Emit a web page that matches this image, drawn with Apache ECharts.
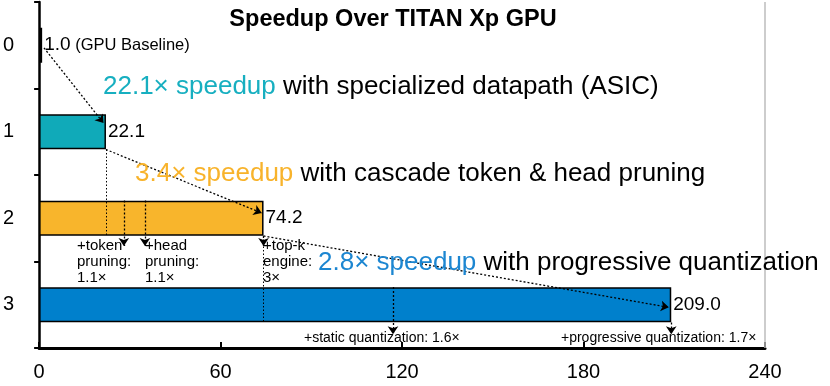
<!DOCTYPE html>
<html>
<head>
<meta charset="utf-8">
<script src="https://cdn.jsdelivr.net/npm/echarts@6/dist/echarts.min.js"></script>
<style>
  html,body{margin:0;padding:0;background:#fff;}
  #chart{width:830px;height:386px;}
</style>
</head>
<body>
<div id="chart"></div>
<script>
/* data */
const categories = ["0", "1", "2", "3"];
const speedup = [1.0, 22.1, 74.2, 209.0];
const xTicks = [0, 60, 120, 180, 240];
// cumulative speedup where each sub step lands inside a bar
const pruningSteps = [28.0, 35.0];      // +token pruning, +head pruning (bar 2)
const quantSteps = [117.0];             // +static quantization (bar 3)

const barColors = ["#000000", "#10AAB9", "#F8B52C", "#0080CC"];
const HALF = 0.205;   // half bar height in category units

const chart = echarts.init(document.getElementById("chart"));

/* dotted arrows, built from the values */
const arrows = [
  [[1.6, 0.03], [speedup[1] - 0.8, 1 - 0.1]],
  [[speedup[1], 1 + HALF], [speedup[2] - 0.6, 2 - 0.06]],
  [[speedup[2], 2 + HALF], [speedup[3] - 0.8, 3 + 0.03]],
  [[pruningSteps[0], 2 - HALF], [pruningSteps[0], 2 + 0.32]],
  [[pruningSteps[1], 2 - HALF], [pruningSteps[1], 2 + 0.32]],
  [[speedup[2], 2 + HALF], [speedup[2], 2 + 0.32]],
  [[quantSteps[0], 3 - HALF], [quantSteps[0], 3 + 0.34]],
  [[speedup[3], 3 + HALF], [speedup[3], 3 + 0.34]]
];
const guides = [
  [[speedup[1], 1 + HALF], [speedup[1], 2 + HALF]],
  [[speedup[2], 2 + HALF], [speedup[2], 3 + HALF]]
];

const FONT = "Liberation Sans";
const bigFont = 26;
const option = {
  animation: false,
  title: {
    text: "Speedup Over TITAN Xp GPU",
    left: 388, top: 3, textAlign: "center",
    textStyle: {fontFamily: FONT, fontWeight: "bold", fontSize: 23.5, color: "#000"}
  },
  grid: {left: 37, right: 65, top: 2, bottom: 38, containLabel: false},
  xAxis: {
    type: "value", min: 0, max: 240, interval: 60,
    axisLine: {show: true, onZero: false, lineStyle: {color: "#000", width: 3}},
    axisTick: {show: true, inside: true, length: 6, lineStyle: {color: "#000", width: 2}},
    axisLabel: {fontFamily: FONT, fontSize: 20, color: "#000", margin: 14,
      formatter: v => xTicks.includes(v) ? String(v) : ""},
    splitLine: {show: false}
  },
  yAxis: [{
    type: "category", data: categories, inverse: true,
    axisLine: {show: true, lineStyle: {color: "#000", width: 2.5}},
    axisTick: {show: true, length: 5, lineStyle: {color: "#000", width: 2}},
    axisLabel: {fontFamily: FONT, fontSize: 20, color: "#000", margin: 25}
  }, {
    type: "value", min: -0.5, max: 3.5, inverse: true, show: false
  }],
  series: [{
    type: "bar",
    data: speedup.map((v, i) => ({value: v, itemStyle: {color: barColors[i]}})),
    barWidth: 35,
    itemStyle: {borderColor: "#000", borderWidth: 1.5},
    label: {
      show: true, position: "right", distance: 2,
      fontFamily: FONT, fontSize: 19, color: "#000",
      formatter: p => p.dataIndex === 0
        ? "{a|" + p.value.toFixed(1) + "}{b| (GPU Baseline)}"
        : p.value.toFixed(1),
      rich: {
        a: {fontFamily: FONT, fontSize: 19, color: "#000"},
        b: {fontFamily: FONT, fontSize: 16.5, color: "#000"}
      }
    },
    markLine: {
      silent: true, symbol: "none",
      lineStyle: {color: "#bdbdbd", type: "solid", width: 1.5},
      label: {show: false},
      data: [{xAxis: 240}]
    },
    z: 2
  }, {
    type: "lines", coordinateSystem: "cartesian2d", xAxisIndex: 0, yAxisIndex: 1,
    symbol: ["none", "arrow"], symbolSize: 8,
    lineStyle: {color: "#000", type: [2, 2], width: 1.3, opacity: 1},
    data: arrows.map(c => ({coords: c})),
    z: 5
  }, {
    type: "lines", coordinateSystem: "cartesian2d", xAxisIndex: 0, yAxisIndex: 1,
    symbol: "none",
    lineStyle: {color: "#000", type: [1.5, 2], width: 1, opacity: 1},
    data: guides.map(c => ({coords: c})),
    z: 4
  }],
  graphic: [
    {type: "text", x: 103, y: 87, z: 10, style: {
      text: "{c|22.1× speedup}{k| with specialized datapath (ASIC)}", verticalAlign: "middle",
      rich: {c: {fill: "#17AFC0", fontSize: bigFont, fontFamily: FONT},
             k: {fill: "#000", fontSize: bigFont, fontFamily: FONT}}}},
    {type: "text", x: 135, y: 174, z: 10, style: {
      text: "{c|3.4× speedup}{k| with cascade token & head pruning}", verticalAlign: "middle",
      rich: {c: {fill: "#F8B32B", fontSize: bigFont, fontFamily: FONT},
             k: {fill: "#000", fontSize: bigFont, fontFamily: FONT}}}},
    {type: "text", x: 318, y: 263, z: 10, style: {
      text: "{c|2.8× speedup}{k| with progressive quantization}", verticalAlign: "middle",
      rich: {c: {fill: "#1C86D1", fontSize: bigFont, fontFamily: FONT},
             k: {fill: "#000", fontSize: bigFont, fontFamily: FONT}}}},
    {type: "text", x: 77, y: 238, z: 10, style: {text: "+token\npruning:\n1.1×",
      fontSize: 15, lineHeight: 16, fontFamily: FONT, fill: "#000"}},
    {type: "text", x: 145, y: 238, z: 10, style: {text: "+head\npruning:\n1.1×",
      fontSize: 15, lineHeight: 16, fontFamily: FONT, fill: "#000"}},
    {type: "text", x: 263, y: 238, z: 10, style: {text: "+top-k\nengine:\n3×",
      fontSize: 15, lineHeight: 16, fontFamily: FONT, fill: "#000"}},
    {type: "text", x: 304, y: 338, z: 10, style: {text: "+static quantization: 1.6×", verticalAlign: "middle",
      fontSize: 14, fontFamily: FONT, fill: "#000"}},
    {type: "text", x: 561, y: 338, z: 10, style: {text: "+progressive quantization: 1.7×", verticalAlign: "middle",
      fontSize: 14, fontFamily: FONT, fill: "#000"}}
  ]
};
chart.setOption(option);
</script>
</body>
</html>
